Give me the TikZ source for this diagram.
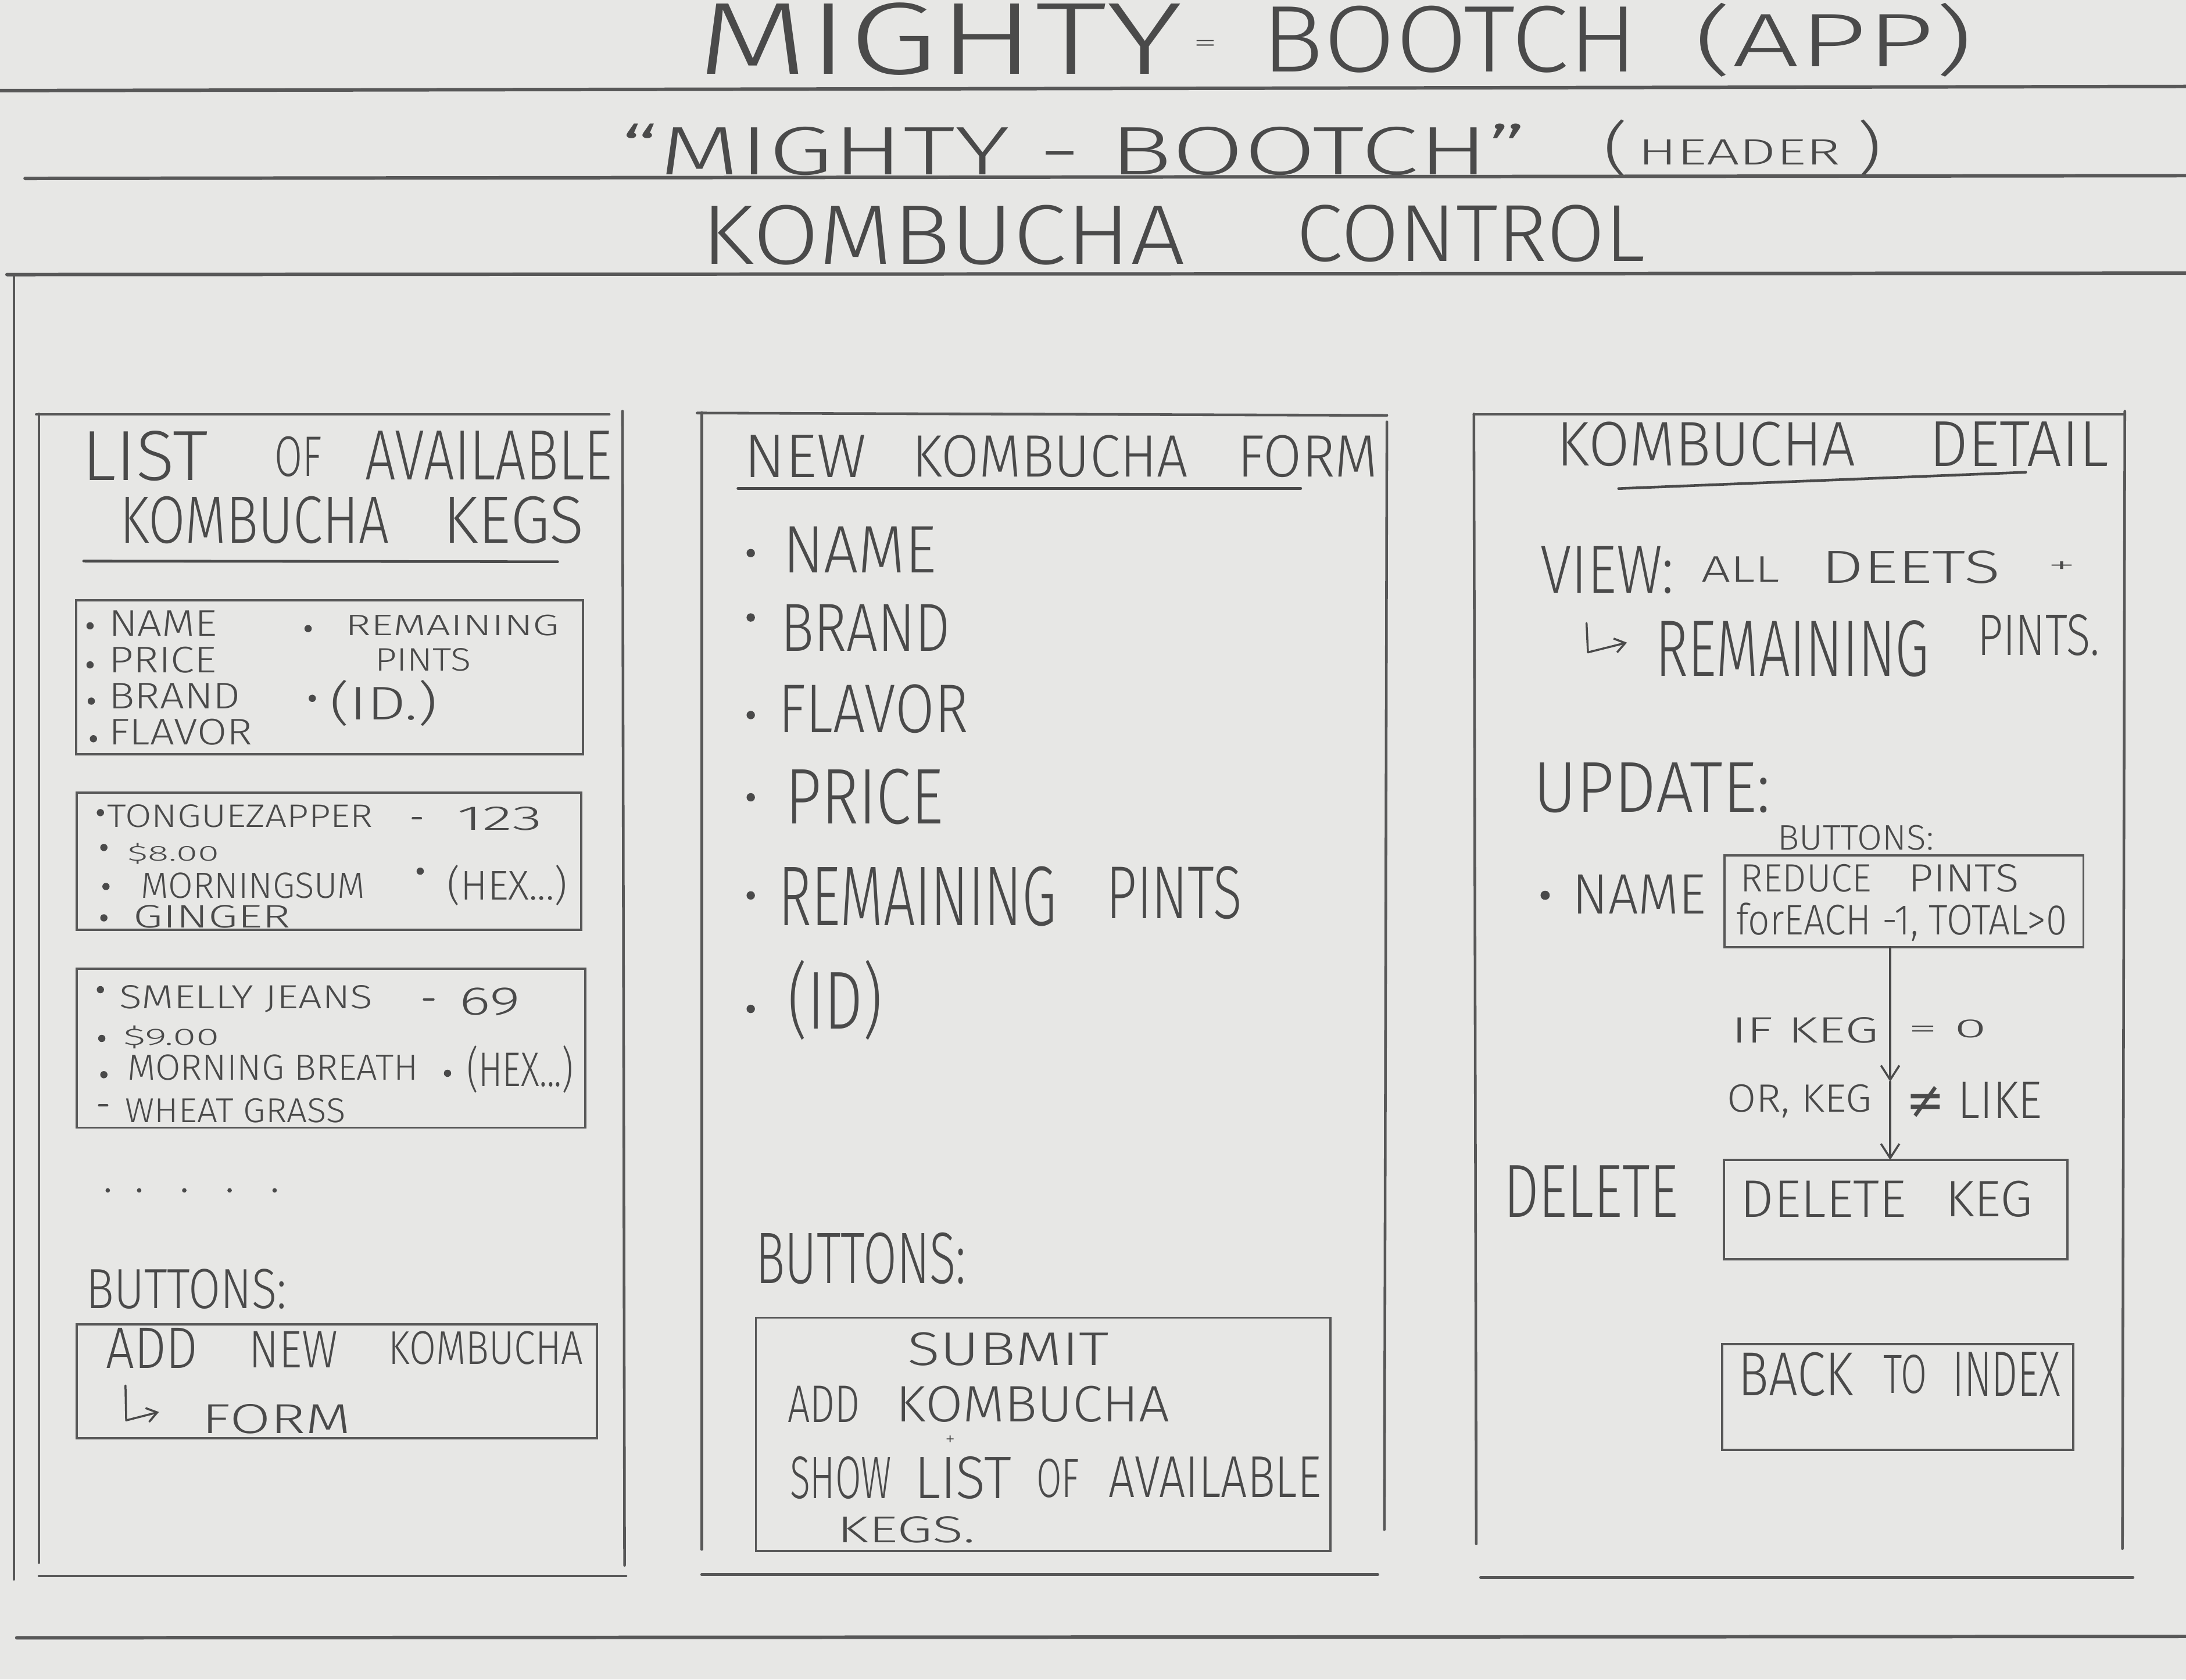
\documentclass[tikz,border=0pt]{standalone}
\usepackage{fontspec}
\setmainfont{Fira Sans}[UprightFont=* Light]
\newfontfamily\symfont{DejaVu Sans}
\usetikzlibrary{arrows.meta}
\newlength\ux
\setlength\ux{0.023986cm}
\definecolor{paper}{HTML}{E7E7E5}
\definecolor{pencil}{HTML}{4A4A4A}
\definecolor{lead}{HTML}{585858}
% hand-lettered text fitted into its box: name, left, top, width, height, text
\newcommand\hw[6]{\node[hand] (#1) at (#2,#3) {\resizebox*{#4\ux}{#5\ux}{#6}};}
% empty framed box: name, left, top, width, height
\newcommand\framebx[5]{\node[boxnode, minimum width=#4\ux, minimum height=#5\ux] (#1) at (#2,#3) {};}
\newcommand\dotb[2]{\fill[pencil] (#1,#2) circle[radius=2.6\ux];}
\begin{document}
\begin{tikzpicture}[x=0.023986cm, y=-0.023986cm,
  hand/.style={anchor=north west, inner sep=0pt, outer sep=0pt, text=pencil},
  rulel/.style={draw=lead, line width=1.7pt, line cap=round},
  frame/.style={draw=lead, line width=1.3pt, line cap=round},
  pen/.style={draw=pencil, line width=1.0pt, line cap=round, line join=round},
  boxnode/.style={draw=lead, line width=1.1pt, inner sep=0pt, outer sep=0pt, anchor=north west},
  flow/.style={pen, -{Straight Barb[length=7pt,width=9pt]}}]
\useasboundingbox (0,0) rectangle (1568,1205);
\fill[paper] (0,0) rectangle (1568,1205);
\clip (0,0) rectangle (1568,1205);

% ---------- page heading ----------
\hw{appA}{500}{2}{348}{52}{MIGHTY}
\hw{appEq}{856}{29}{17}{8}{=}
\hw{appB}{905}{4}{270}{48}{BOOTCH}
\hw{appC}{1215}{2}{200}{53}{(APP)}
\draw[rulel] (0,65) -- (1568,62);

\hw{hdA}{445}{89}{650}{37}{“MIGHTY - BOOTCH”}
\hw{hdB}{1150}{86}{18}{41}{(}
\hw{hdC}{1175}{100}{145}{18}{HEADER}
\hw{hdD}{1332}{86}{18}{41}{)}
\draw[rulel] (18,128) -- (1568,126);

\hw{ctlA}{503}{147}{347}{43}{KOMBUCHA}
\hw{ctlB}{930}{147}{250}{41}{CONTROL}
\draw[rulel] (5,197) -- (1568,196);
\draw[frame] (10,197) -- (10,1133);
\draw[rulel] (12,1175) -- (1568,1174);

% ---------- panel 1: list of kegs ----------
\draw[frame] (26,297.3) -- (437,297.3);
\draw[frame] (28,297) -- (28,1121);
\draw[frame] (446.5,295) -- (448,1123);
\draw[frame] (28,1130.7) -- (449,1130.7);

\hw{l1a}{59}{309}{90}{36}{LIST}
\hw{l1b}{197}{313}{34}{29}{OF}
\hw{l1c}{262}{309}{177}{35}{AVAILABLE}
\hw{l1d}{86}{356}{193}{34}{KOMBUCHA}
\hw{l1e}{318}{356}{101}{34}{KEGS}
\draw[pen, line width=1.3pt] (60,402.5) -- (400,403);

\framebx{fields}{54.7}{430.5}{363.6}{110.5}
\dotb{64.6}{449}\dotb{64.6}{477}\dotb{65.5}{503}\dotb{67}{530}
\dotb{221}{451}\dotb{224}{501}
\hw{fcol}{78}{438}{103}{104}{\renewcommand\arraystretch{0.8}\begin{tabular}{@{}l@{}}NAME\\PRICE\\BRAND\\FLAVOR\end{tabular}}
\hw{f5}{247.8}{441}{153.6}{15}{REMAINING}
\hw{f6}{269}{465}{69}{16.5}{PINTS}
\hw{f7}{236.5}{488}{77.5}{33}{(ID.)}

\framebx{kegA}{55}{568.7}{362}{98.5}
\dotb{72}{583}\dotb{74.5}{608}\dotb{76}{636}\dotb{301.4}{625}\dotb{74.5}{658.5}
\hw{a1}{77}{577.3}{190.5}{16.5}{TONGUEZAPPER}
\draw[pen] (296,587) -- (302,587);
\hw{a2}{328}{579}{61}{17}{123}
\hw{a3}{91.4}{605}{66}{15}{\$8.00}
\hw{a4}{101}{626}{161}{18.5}{MORNINGSUM}
\hw{a5}{321}{620.5}{86}{29}{(HEX...)}
\hw{a6}{95.6}{649.5}{112.7}{16.5}{GINGER}

\framebx{kegB}{55}{695}{364.7}{114}
\dotb{72}{710}\dotb{73}{745}\dotb{74.5}{771}\dotb{321}{770}
\hw{b1}{85.7}{707}{181.8}{19.5}{SMELLY JEANS}
\draw[pen] (304,717) -- (311,717);
\hw{b2}{329.6}{708.7}{43.7}{20}{69}
\hw{b3}{88.6}{736}{69}{16.5}{\$9.00}
\hw{b4}{91.4}{756.5}{208.6}{18.5}{MORNING BREATH}
\hw{b5}{335}{750}{76.3}{34}{(HEX...)}
\draw[pen] (71,793) -- (77,793);
\hw{b6}{90}{788}{157.8}{17.5}{WHEAT GRASS}

\foreach \px in {77.3,99.8,132.2,164.7,197}{\fill[pencil] (\px,854) circle[radius=1.6\ux];}

\hw{l1btn}{61.8}{910.6}{143.7}{28.7}{BUTTONS:}
\framebx{addBtn}{55}{950}{373}{81.8}
\hw{d1}{76}{953}{66}{28.8}{ADD}
\hw{d2}{178.7}{955}{63.5}{26}{NEW}
\hw{d3}{278.8}{955}{139.5}{24}{KOMBUCHA}
\draw[pen, -{Straight Barb[length=5pt,width=7pt]}] (90,994) -- (90.5,1019) -- (114,1013);
\hw{d4}{145}{1007.4}{107}{21.2}{FORM}

% ---------- panel 2: new kombucha form ----------
\draw[frame] (500,296.3) -- (994.8,298);
\draw[frame] (503.3,296) -- (503.3,1111.6);
\draw[frame] (994.8,302.6) -- (993,1097.3);
\draw[frame] (503.3,1129.6) -- (988.3,1129.6);

\hw{n1}{534}{312.2}{87.6}{30.3}{NEW}
\hw{n2}{654.2}{312.2}{197.8}{30.3}{KOMBUCHA}
\hw{n3}{887.7}{312.2}{100.6}{30.3}{FORM}
\draw[pen, line width=1.3pt] (529.3,350.5) -- (933,350.5);

\foreach \py in {396.8,443,513,572,642.4,723.8}{\fill[pencil] (538.5,\py) circle[radius=3\ux];}
\hw{m1}{561.7}{378}{110}{33}{NAME}
\hw{m2}{560}{433.5}{121.7}{33.5}{BRAND}
\hw{m3}{558.5}{491}{136}{35}{FLAVOR}
\hw{m4}{563.3}{551.5}{113.5}{40}{PRICE}
\hw{m5}{558.5}{621.7}{199.5}{43}{REMAINING}
\hw{m6}{793.6}{621.7}{97.4}{38}{PINTS}
\hw{m7}{565}{688.7}{68}{57.4}{(ID)}

\hw{l2btn}{542.2}{884.3}{150.8}{37}{BUTTONS:}
\framebx{submitBtn}{542.2}{945.3}{412}{167.5}
\hw{s1}{651}{956}{144.3}{24}{SUBMIT}
\hw{s2}{565}{994.4}{51.8}{26}{ADD}
\hw{s3}{642.8}{994.4}{196.2}{26}{KOMBUCHA}
\hw{s4}{678}{1030}{7}{7}{+}
\hw{s5}{566.6}{1045}{73}{30.5}{SHOW}
\hw{s6}{655.8}{1045}{69.7}{30.5}{LIST}
\hw{s7}{743.4}{1046.5}{30.8}{28}{OF}
\hw{s8}{795.3}{1045}{152.4}{29}{AVAILABLE}
\hw{s9}{600.6}{1088}{99}{19}{KEGS.}

% ---------- panel 3: kombucha detail ----------
\draw[frame] (1057.2,297.3) -- (1524.1,297.3);
\draw[frame] (1057.2,297) -- (1058.9,1107.6);
\draw[frame] (1524.1,295) -- (1522.4,1111);
\draw[frame] (1062,1131.8) -- (1530,1131.8);

\hw{k1}{1116.6}{302.6}{214.4}{32}{KOMBUCHA}
\hw{k2}{1383.9}{302.6}{128.6}{32}{DETAIL}
\draw[pen, line width=1.3pt] (1161,350.5) -- (1453,338.8);

\hw{v1}{1105}{392}{95.7}{34}{VIEW:}
\hw{v2}{1220.5}{399.4}{56.1}{18.2}{ALL}
\hw{v3}{1306.3}{395}{128.7}{23.6}{DEETS}
\hw{v4}{1469}{403}{20}{8}{+}
\draw[pen, -{Straight Barb[length=5pt,width=7pt]}] (1138,447) -- (1139,468) -- (1167,461);
\hw{v5}{1187.5}{445}{196.4}{40.6}{REMAINING}
\hw{v6}{1418.5}{441}{87.5}{29.7}{PINTS.}

\hw{u1}{1100}{547.3}{170}{36}{UPDATE:}
\hw{u2}{1275}{592}{112}{18}{BUTTONS:}
\fill[pencil] (1108.3,642.3) circle[radius=3.3\ux];
\hw{u3}{1128.1}{627.4}{95.7}{28}{NAME}

\framebx{reduceBtn}{1237}{613.5}{257.4}{66}
\hw{r1}{1248.6}{620}{94}{20}{REDUCE}
\hw{r2}{1369}{620}{79.2}{20}{PINTS}
\hw{r3}{1245.3}{647.9}{237.5}{27.5}{forEACH -1, TOTAL>0}

\framebx{deleteBtn}{1236.4}{832.2}{246.4}{71.4}
\hw{x1}{1248.6}{847}{118.8}{26}{DELETE}
\hw{x2}{1395.4}{847}{62.7}{26}{KEG}

\coordinate (split) at (1355.8,776);
\draw[flow] (reduceBtn.south -| split) -- (split);
\draw[flow] (split) -- (deleteBtn.north -| split);

\hw{c1}{1242}{729.8}{105.6}{18.6}{IF KEG}
\hw{c2}{1369}{731.6}{56}{13}{= 0}
\hw{c3}{1238.7}{778}{104}{24}{OR, KEG}
\hw{c4}{1367.4}{776.3}{97.3}{26}{{\symfont ≠} LIKE}

\hw{x0}{1078.6}{836}{125.4}{37}{DELETE}

\framebx{backBtn}{1235.4}{964.3}{251.6}{75.7}
\hw{y1}{1246.9}{970}{82.5}{31.5}{BACK}
\hw{y2}{1350.9}{972}{31.3}{28}{TO}
\hw{y3}{1400.4}{970}{77.5}{31.5}{INDEX}
\end{tikzpicture}
\end{document}
